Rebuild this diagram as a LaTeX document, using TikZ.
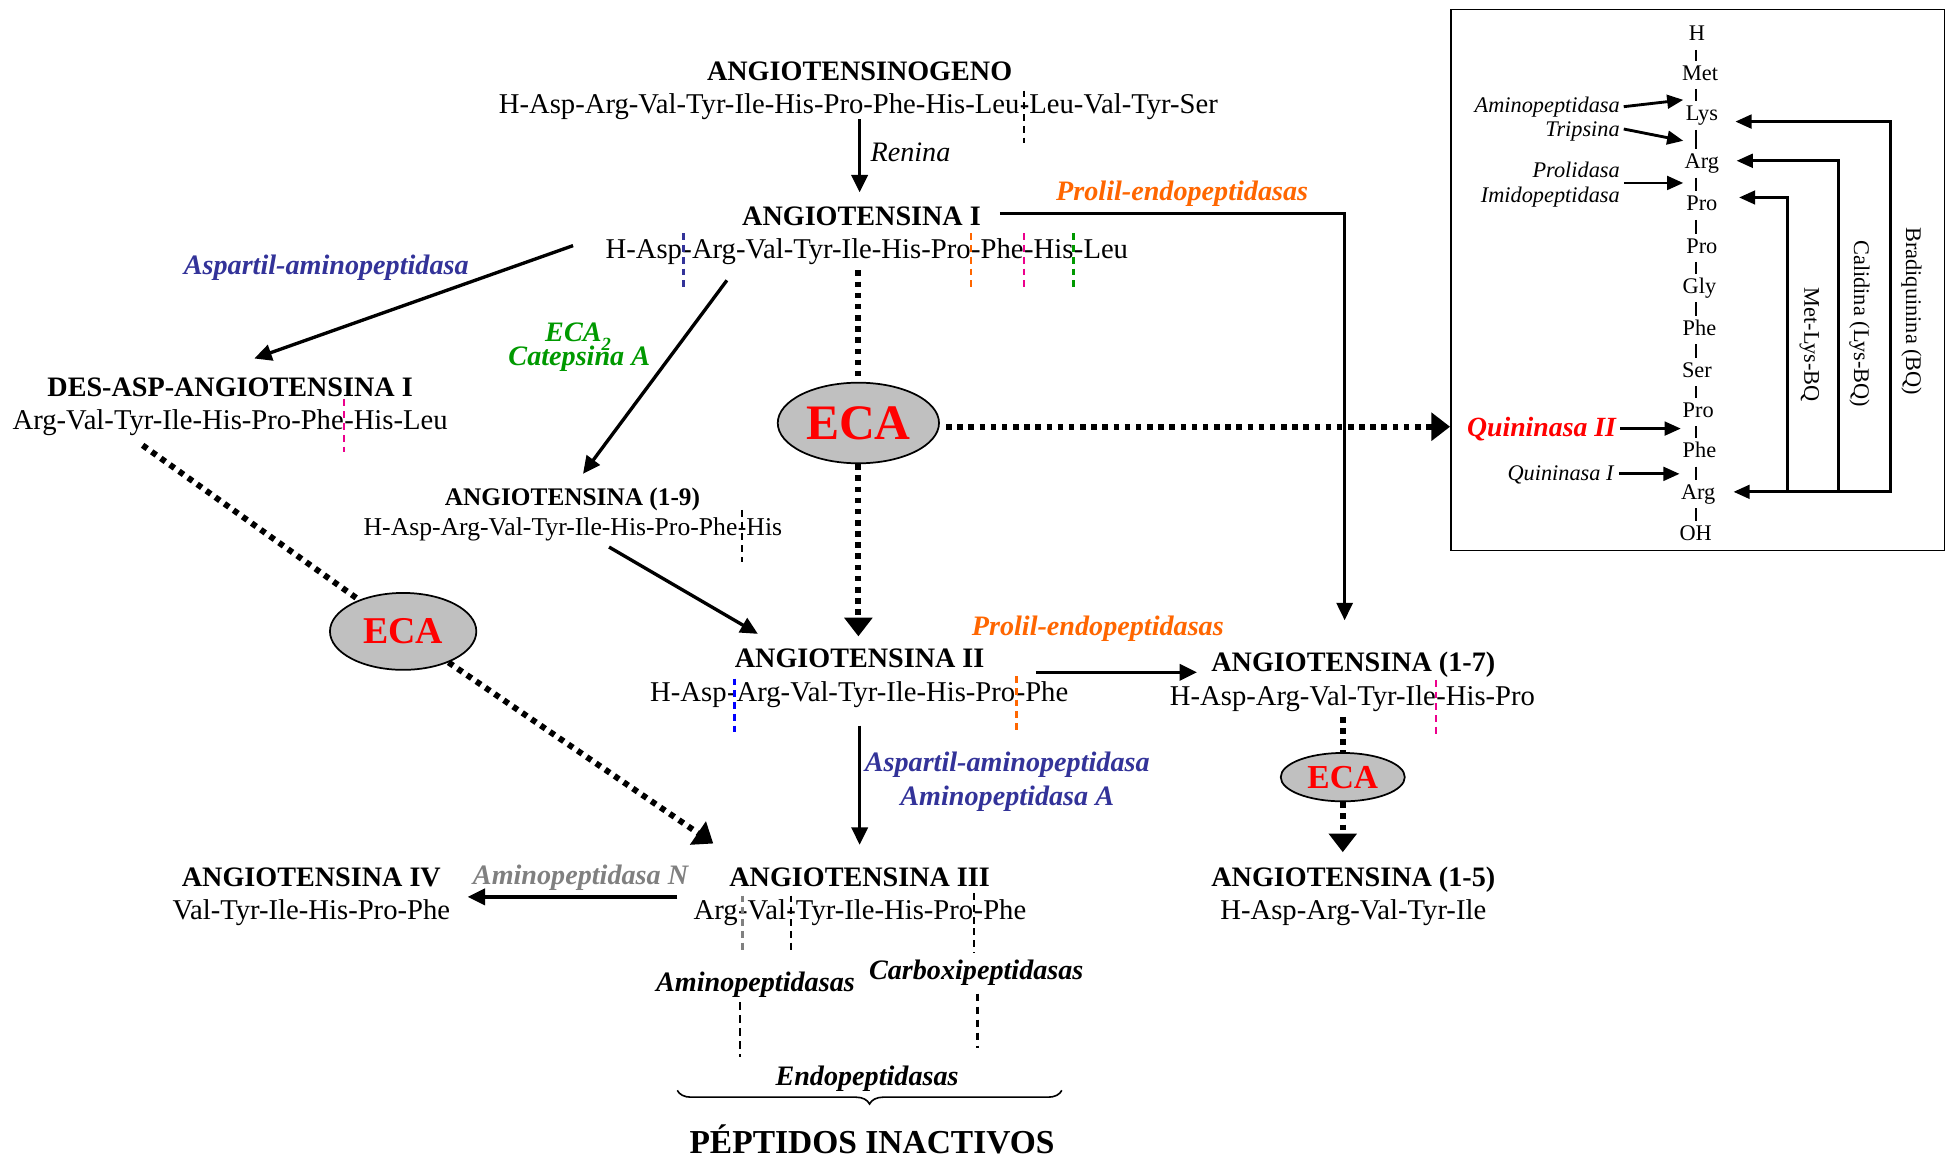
\documentclass[tikz,border=0pt]{standalone}
\usepackage{fontspec}
\setmainfont{Liberation Serif}
\usetikzlibrary{arrows.meta,shapes.geometric,decorations.pathreplacing,calc}

\definecolor{aspblue}{HTML}{333399}
\definecolor{proorange}{HTML}{FF6600}
\definecolor{catgreen}{HTML}{009900}
\definecolor{apngray}{HTML}{808080}
\definecolor{ecagray}{HTML}{C0C0C0}

\newcommand{\fsmain}{\fontsize{22.7}{26}\selectfont}
\newcommand{\fsseq}{\fontsize{23.1}{26}\selectfont}
\newcommand{\fsnine}{\fontsize{20.4}{24}\selectfont}
\newcommand{\fsnineseq}{\fontsize{20.7}{24}\selectfont}
\newcommand{\fsbox}{\fontsize{18}{21}\selectfont}

% short dashed cleavage mark through a sequence, placed at a node anchor
\newcommand{\cutmark}[5]{%
  \coordinate (tmpcut) at ([xshift=#3pt]#2);
  \draw[cut,#1] (tmpcut |- 0,#4) -- (tmpcut |- 0,#5);}

\begin{document}
\begin{tikzpicture}[x=1pt,y=-1pt,
  title/.style={font=\fsmain\bfseries, inner sep=0pt, anchor=base},
  seq/.style={font=\fsseq, inner sep=0pt, anchor=base west},
  seqc/.style={font=\fsseq, inner sep=0pt, anchor=base},
  seqnine/.style={font=\fsnineseq, inner sep=0pt, anchor=base west},
  enz/.style={font=\fsmain\bfseries\itshape, inner sep=0pt, anchor=base},
  cut/.style={line width=2.2pt, dash pattern=on 5.5pt off 4pt},
  flow/.style={line width=2.7pt, -{Triangle[length=14pt,width=13pt]}},
  flowthin/.style={line width=2.1pt, -{Triangle[length=14pt,width=13pt]}},
  dotline/.style={line width=4.8pt, dash pattern=on 4.5pt off 4.5pt},
  dotarrow/.style={dotline, -{Triangle[length=15pt,width=22pt]}},
  eca/.style={ellipse, draw, line width=1.4pt, fill=ecagray, text=red, inner sep=0pt},
  res/.style={font=\fsbox, inner sep=3.5pt, text height=12pt, text depth=3.5pt, anchor=base},
  link/.style={line width=1.3pt},
  blab/.style={font=\fsbox\itshape, inner sep=0pt, anchor=base east},
  bflow/.style={line width=2.3pt, -{Triangle[length=13pt,width=11pt]}},
  rot/.style={font=\fsbox, inner sep=0pt, rotate=-90},
  bdash/.style={line width=1.8pt, dash pattern=on 6pt off 4.5pt}
]
\useasboundingbox (0,0) rectangle (1568,935.2);

% ---------------- Angiotensinogen
\node[title] (agt) at (693,64.5) {ANGIOTENSINOGENO};
\node[seq] (g1) at (402,91.5) {H-Asp-Arg-Val-Tyr-Ile-His-Pro-Phe-His-Leu};
\node[seq] (g2) at (g1.base east) {-Leu-Val-Tyr-Ser};
\cutmark{black}{g1.east}{3.5}{73}{115}

\draw[flow] (693,96) -- (693,155);
\node[font=\fsmain\itshape, inner sep=0pt, anchor=base] (ren) at (734,130) {Renina};

% ---------------- Angiotensina I
\node[title] (ang1) at (694.5,181.5) {ANGIOTENSINA I};
\node[seq] (a1) at (488,208.5) {H-Asp};
\node[seq] (a2) at (a1.base east) {-Arg-Val-Tyr-Ile-His-Pro};
\node[seq] (a3) at (a2.base east) {-Phe};
\node[seq] (a4) at (a3.base east) {-His};
\node[seq] (a5) at (a4.base east) {-Leu};
\cutmark{aspblue}{a1.east}{1}{188}{232}
\cutmark{proorange}{a2.east}{0}{188}{232}
\cutmark{magenta}{a3.east}{0}{188}{232}
\cutmark{catgreen}{a4.east}{0}{188}{232}

% prolyl-endopeptidase route to Ang (1-7)
\draw[flowthin] (806,172) -- (1084,172) -- (1084,500);
\node[enz, text=proorange] (pe1) at (953,162) {Prolil-endopeptidasas};

% ---------------- Des-Asp-Angiotensina I
\draw[flow] (462,198) -- (205,289);
\node[enz, text=aspblue] (asp1) at (263,221) {Aspartil-aminopeptidasa};
\node[title] (des) at (185.5,319.5) {DES-ASP-ANGIOTENSINA I};
\node[seq] (d1) at (10,346.5) {Arg-Val-Tyr-Ile-His-Pro-Phe};
\node[seq] (d2) at (d1.base east) {-His-Leu};
\cutmark{magenta}{d1.east}{0}{322}{364}

% ---------------- Angiotensina (1-9)
\draw[flow] (586,226) -- (470,382);
\node[enz, text=catgreen] (eca2) at (466,275) {ECA\raisebox{-0.35em}{\fontsize{15}{15}\selectfont 2}};
\node[enz, text=catgreen] (catA) at (467,295) {Catepsina A};
\node[title, font=\fsnine\bfseries] (ang19) at (461.5,407.7) {ANGIOTENSINA (1-9)};
\node[seqnine] (n1) at (293,431.7) {H-Asp-Arg-Val-Tyr-Ile-His-Pro-Phe};
\node[seqnine] (n2) at (n1.base east) {-His};
\cutmark{black}{n1.east}{3.4}{411}{453}
\draw[flow] (491,441) -- (611,511);

% ---------------- ECA (central)
\node[eca, minimum width=130pt, minimum height=65pt, font=\fontsize{40}{40}\selectfont\bfseries] (ecaA) at (692,341) {ECA};
\draw[dotline] (692,218) -- (ecaA);
\draw[dotarrow] (ecaA) -- (692,513);

% ---------------- Kinin box
\node[draw, line width=1.4pt, inner sep=0pt, minimum width=398pt, minimum height=436pt, anchor=north west] (kbox) at (1169,7) {};
\draw[dotarrow] ([xshift=5pt,yshift=-3pt]ecaA.east) -- (kbox.west |- 0,344);

\foreach \nm/\txt/\xx/\yy in {r1/H/1368/27, r2/Met/1370.5/58.5, r3/Lys/1372/91.5,
  r4/Arg/1372/130, r5/Pro/1372/164, r6/Pro/1372/198, r7/Gly/1370/230.5,
  r8/Phe/1370/264.5, r9/Ser/1368/298, r10/Pro/1369/330.5, r11/Phe/1370/363,
  r12/Arg/1369/396.5, r13/OH/1367/430}
  \node[res] (\nm) at (\xx,\yy+6) {\txt};
\foreach \pa/\pb in {r1/r2,r2/r3,r3/r4,r4/r5,r5/r6,r6/r7,r7/r8,r8/r9,r9/r10,r10/r11,r11/r12,r12/r13}
  \draw[link] (\pa.south -| 1367,0) -- (\pb.north -| 1367,0);

\node[blab] (bl1) at (1306,90.4) {Aminopeptidasa};
\node[blab] (bl2) at (1306,109.7) {Tripsina};
\node[blab] (bl3) at (1306,142.8) {Prolidasa};
\node[blab] (bl4) at (1306,162.9) {Imidopeptidasa};
\node[blab, font=\fontsize{22.4}{26}\selectfont\bfseries\itshape, text=red] (bl5) at (1303,351.5) {Quininasa II};
\node[blab] (bl6) at (1301,387.5) {Quininasa I};

\draw[bflow] (1309,86) -- (1357,80.5);
\draw[bflow] (1309,104) -- (1357,113.5);
\draw[bflow] (1309,147.5) -- (1357,147.5);
\draw[bflow] (1306,345.5) -- (1355,345.5);
\draw[bflow] (1305,382) -- (1354,382);

\draw[bflow] (1524,396.5) -- (1524,98) -- (1399,98);
\draw[bflow] (1482,396.5) -- (1482,129.6) -- (1400,129.6);
\draw[bflow] (1441,396.5) -- (1441,159.2) -- (1402,159.2);
\draw[bflow] (1525,396.5) -- (1397.5,396.5);

\node[rot] (kmlb) at (1458.7,278) {Met-Lys-BQ};
\node[rot] (kcal) at (1499,261) {Calidina (Lys-BQ)};
\node[rot] (kbq) at (1541,251) {Bradiquinina (BQ)};

% ---------------- ECA (left) on Des-Asp route
\node[eca, minimum width=118pt, minimum height=62pt, font=\fontsize{30.5}{30.5}\selectfont\bfseries] (ecaB) at (325,509) {ECA};
\draw[dotline] (115,359) -- (ecaB);
\draw[dotarrow] (ecaB) -- (575,680);

% ---------------- Angiotensina II
\node[title] (ang2) at (693,538.5) {ANGIOTENSINA II};
\node[seq] (b1) at (524,565.5) {H-Asp};
\node[seq] (b2) at (b1.base east) {-Arg-Val-Tyr-Ile-His-Pro};
\node[seq] (b3) at (b2.base east) {-Phe};
\cutmark{blue}{b1.east}{6}{547}{592}
\cutmark{proorange}{b2.east}{1}{545}{589}

\draw[flow] (835,542) -- (965,542);
\node[enz, text=proorange] (pe2) at (885,512) {Prolil-endopeptidasas};

% ---------------- Angiotensina (1-7) and (1-5)
\node[title] (ang17) at (1091,541.5) {ANGIOTENSINA (1-7)};
\node[seq] (s1) at (943,568.5) {H-Asp-Arg-Val-Tyr-Ile};
\node[seq] (s2) at (s1.base east) {-His-Pro};
\cutmark{magenta}{s1.east}{0}{548}{592}

\node[eca, minimum width=100pt, minimum height=39pt, font=\fontsize{27}{27}\selectfont\bfseries] (ecaC) at (1082.5,626.5) {ECA};
\draw[dotline] (1082.5,578) -- (ecaC);
\draw[dotarrow] (ecaC) -- (1082.5,687);

\node[title] (ang15) at (1091,714.5) {ANGIOTENSINA (1-5)};
\node[seqc] (f1) at (1091,741.5) {H-Asp-Arg-Val-Tyr-Ile};

% ---------------- Angiotensina III
\draw[flow] (693,585) -- (693,681);
\node[enz, text=aspblue] (asp2) at (812,622) {Aspartil-aminopeptidasa};
\node[enz, text=aspblue] (apa) at (812,649) {Aminopeptidasa A};

\node[title] (ang3) at (693,714.5) {ANGIOTENSINA III};
\node[seq] (t1) at (559,741.5) {Arg};
\node[seq] (t2) at (t1.base east) {-Val};
\node[seq] (t3) at (t2.base east) {-Tyr-Ile-His-Pro};
\node[seq] (t4) at (t3.base east) {-Phe};
\cutmark{apngray}{t1.east}{3.8}{722}{768}
\cutmark{black}{t2.east}{3.8}{722}{768}
\cutmark{black}{t3.east}{0.5}{720}{768}

% ---------------- Angiotensina IV
\draw[flow] (546,723) -- (377,723);
\node[enz, text=apngray] (apn) at (468,713) {Aminopeptidasa N};
\node[title] (ang4) at (251,714.5) {ANGIOTENSINA IV};
\node[seqc] (v1) at (251,741.5) {Val-Tyr-Ile-His-Pro-Phe};

% ---------------- Degradation to inactive peptides
\node[enz] (amps) at (609,799) {Aminopeptidasas};
\node[enz] (cbps) at (787,790) {Carboxipeptidasas};
\draw[bdash] (596.5,808) -- (596.5,852);
\draw[bdash] (788,801) -- (788,845);
\node[enz] (endo) at (699,875) {Endopeptidasas};
\draw[decorate, decoration={brace, mirror, amplitude=11pt}, line width=1.3pt] (546,879) -- (856,879);
\node[title, font=\fontsize{27}{30}\selectfont\bfseries] (inact) at (703,930) {PÉPTIDOS INACTIVOS};

\end{tikzpicture}
\end{document}
